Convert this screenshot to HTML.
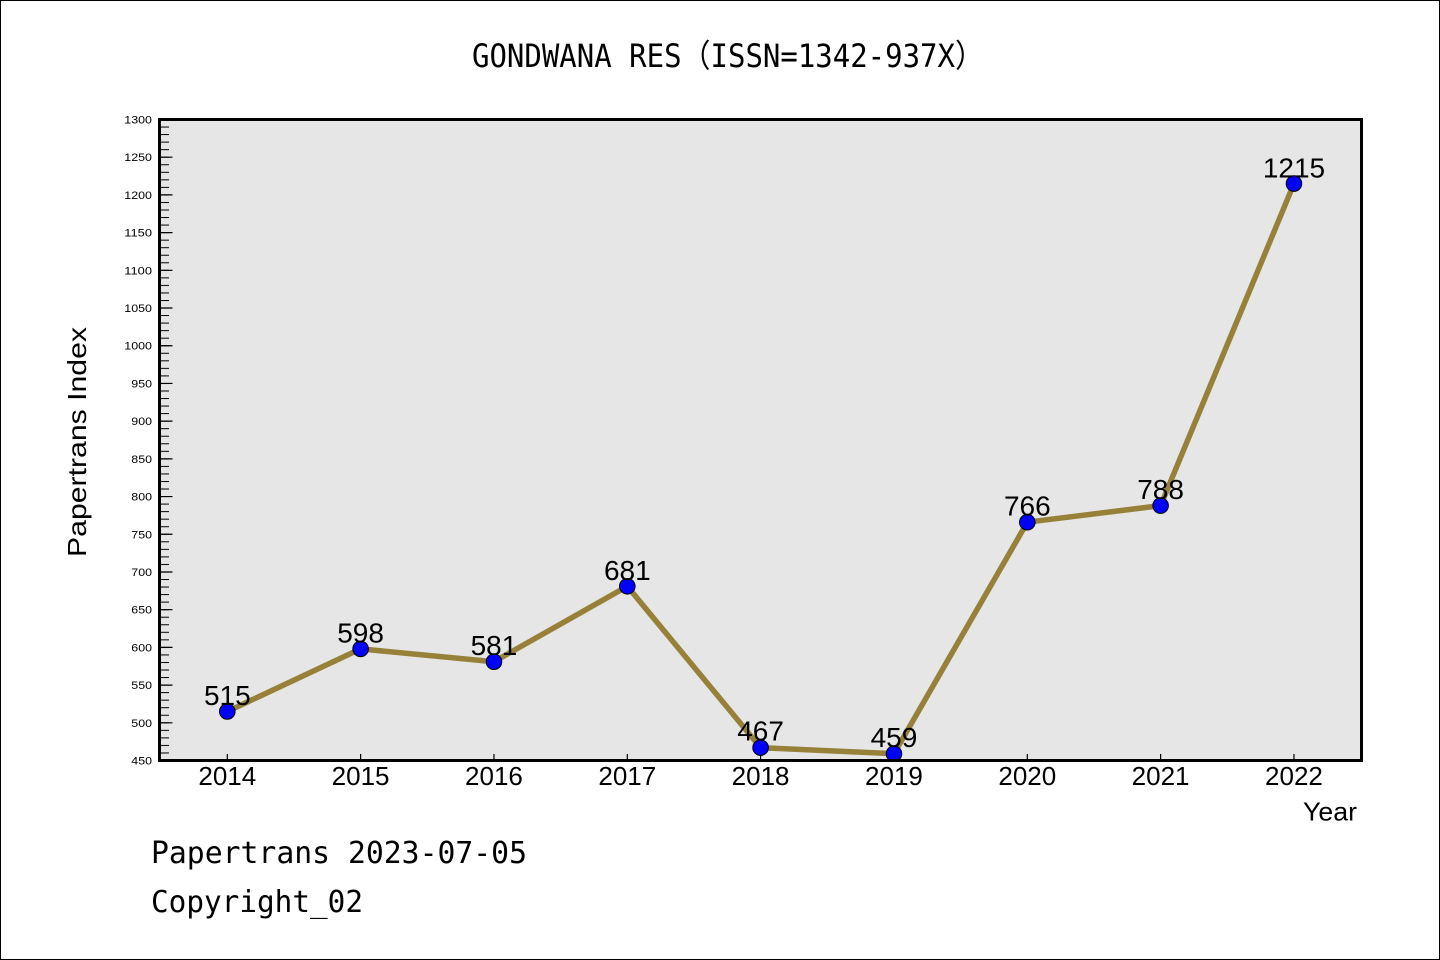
<!DOCTYPE html>
<html>
<head>
<meta charset="utf-8">
<style>
  html,body{margin:0;padding:0;background:#fff;}
  svg{display:block;}
</style>
</head>
<body>
<svg width="1440" height="960" viewBox="0 0 1440 960" xmlns="http://www.w3.org/2000/svg">
  <defs>
    <pattern id="minor" patternUnits="userSpaceOnUse" x="161" y="119" width="8" height="7.541176">
      <rect x="0" y="0" width="8" height="1" fill="#000"/>
    </pattern>
  </defs>
  <!-- outer border -->
  <rect x="0.5" y="0.5" width="1439" height="959" fill="#fff" stroke="#000" stroke-width="1"/>

  <!-- title -->
  <text x="472" y="67" font-family="'DejaVu Sans Mono','Liberation Mono','Noto Sans CJK SC',monospace" font-size="32" textLength="512" lengthAdjust="spacingAndGlyphs" fill="#000">GONDWANA RES（ISSN=1342-937X）</text>

  <!-- plot area -->
  <rect x="159.5" y="119.5" width="1202" height="641" fill="#e6e6e6"/>

  <!-- minor y ticks -->
  <rect x="161" y="119" width="8" height="642" fill="url(#minor)"/>
  <!-- major y ticks -->
  <path stroke="#000" stroke-width="1.2" fill="none" d="
    M161 760.5H172.5 M161 722.79H172.5 M161 685.09H172.5 M161 647.38H172.5
    M161 609.68H172.5 M161 571.97H172.5 M161 534.26H172.5 M161 496.56H172.5
    M161 458.85H172.5 M161 421.15H172.5 M161 383.44H172.5 M161 345.74H172.5
    M161 308.03H172.5 M161 270.32H172.5 M161 232.62H172.5 M161 194.91H172.5
    M161 157.21H172.5 M161 119.5H172.5"/>
  <!-- x ticks -->
  <path stroke="#000" stroke-width="1.2" fill="none" d="
    M227.3 760V754 M360.6 760V754 M493.97 760V754 M627.3 760V754 M760.6 760V754
    M893.97 760V754 M1027.3 760V754 M1160.6 760V754 M1293.97 760V754"/>

  <!-- y tick labels -->
  <g font-family="'Liberation Sans',Arial,sans-serif" font-size="11" fill="#000" text-anchor="end">
    <text x="152" y="764.5" textLength="20.7" lengthAdjust="spacingAndGlyphs">450</text>
    <text x="152" y="726.8" textLength="20.7" lengthAdjust="spacingAndGlyphs">500</text>
    <text x="152" y="689.1" textLength="20.7" lengthAdjust="spacingAndGlyphs">550</text>
    <text x="152" y="651.4" textLength="20.7" lengthAdjust="spacingAndGlyphs">600</text>
    <text x="152" y="613.7" textLength="20.7" lengthAdjust="spacingAndGlyphs">650</text>
    <text x="152" y="576.0" textLength="20.7" lengthAdjust="spacingAndGlyphs">700</text>
    <text x="152" y="538.3" textLength="20.7" lengthAdjust="spacingAndGlyphs">750</text>
    <text x="152" y="500.6" textLength="20.7" lengthAdjust="spacingAndGlyphs">800</text>
    <text x="152" y="462.9" textLength="20.7" lengthAdjust="spacingAndGlyphs">850</text>
    <text x="152" y="425.2" textLength="20.7" lengthAdjust="spacingAndGlyphs">900</text>
    <text x="152" y="387.4" textLength="20.7" lengthAdjust="spacingAndGlyphs">950</text>
    <text x="152" y="349.7" textLength="27.7" lengthAdjust="spacingAndGlyphs">1000</text>
    <text x="152" y="312.0" textLength="27.7" lengthAdjust="spacingAndGlyphs">1050</text>
    <text x="152" y="274.3" textLength="27.7" lengthAdjust="spacingAndGlyphs">1100</text>
    <text x="152" y="236.6" textLength="27.7" lengthAdjust="spacingAndGlyphs">1150</text>
    <text x="152" y="198.9" textLength="27.7" lengthAdjust="spacingAndGlyphs">1200</text>
    <text x="152" y="161.2" textLength="27.7" lengthAdjust="spacingAndGlyphs">1250</text>
    <text x="152" y="123.5" textLength="27.7" lengthAdjust="spacingAndGlyphs">1300</text>
  </g>

  <!-- x tick labels -->
  <g font-family="'Liberation Sans',Arial,sans-serif" font-size="26" fill="#000" text-anchor="middle">
    <text x="227.3" y="785">2014</text>
    <text x="360.6" y="785">2015</text>
    <text x="493.97" y="785">2016</text>
    <text x="627.3" y="785">2017</text>
    <text x="760.6" y="785">2018</text>
    <text x="893.97" y="785">2019</text>
    <text x="1027.3" y="785">2020</text>
    <text x="1160.6" y="785">2021</text>
    <text x="1293.97" y="785">2022</text>
  </g>

  <!-- axis titles -->
  <text x="1357" y="820.5" text-anchor="end" font-family="'Liberation Sans',Arial,sans-serif" font-size="26" fill="#000" textLength="54" lengthAdjust="spacingAndGlyphs">Year</text>
  <text transform="translate(86,442) rotate(-90)" x="0" y="0" text-anchor="middle" font-family="'Liberation Sans',Arial,sans-serif" font-size="26" fill="#000" textLength="230" lengthAdjust="spacingAndGlyphs">Papertrans Index</text>

  <!-- series line -->
  <polyline fill="none" stroke="#978139" stroke-width="5.5" stroke-linejoin="round"
    points="227.3,711.48 360.6,648.89 493.97,661.71 627.3,586.30 760.6,747.68 893.97,753.71 1027.3,522.20 1160.6,505.61 1293.97,183.60"/>

  <!-- markers -->
  <g fill="#0000ff" stroke="#000" stroke-width="1">
    <circle cx="227.3" cy="711.48" r="7.8"/>
    <circle cx="360.6" cy="648.89" r="7.8"/>
    <circle cx="493.97" cy="661.71" r="7.8"/>
    <circle cx="627.3" cy="586.30" r="7.8"/>
    <circle cx="760.6" cy="747.68" r="7.8"/>
    <circle cx="893.97" cy="753.71" r="7.8"/>
    <circle cx="1027.3" cy="522.20" r="7.8"/>
    <circle cx="1160.6" cy="505.61" r="7.8"/>
    <circle cx="1293.97" cy="183.60" r="7.8"/>
  </g>

  <!-- frame -->
  <rect x="159.5" y="119.5" width="1202" height="641" fill="none" stroke="#000" stroke-width="3"/>

  <!-- data labels -->
  <g font-family="'Liberation Sans',Arial,sans-serif" font-size="28" fill="#000" text-anchor="middle">
    <text x="227.3" y="705">515</text>
    <text x="360.6" y="642.4">598</text>
    <text x="493.97" y="655.2">581</text>
    <text x="627.3" y="579.8">681</text>
    <text x="760.6" y="740.5">467</text>
    <text x="893.97" y="747">459</text>
    <text x="1027.3" y="515.7">766</text>
    <text x="1160.6" y="499.1">788</text>
    <text x="1293.97" y="177.6">1215</text>
  </g>

  <!-- footer -->
  <text x="151" y="863" font-family="'DejaVu Sans Mono','Liberation Mono',monospace" font-size="30" fill="#000" textLength="376" lengthAdjust="spacingAndGlyphs">Papertrans 2023-07-05</text>
  <text x="151" y="912" font-family="'DejaVu Sans Mono','Liberation Mono',monospace" font-size="30" fill="#000" textLength="212" lengthAdjust="spacingAndGlyphs">Copyright_02</text>
</svg>
</body>
</html>
